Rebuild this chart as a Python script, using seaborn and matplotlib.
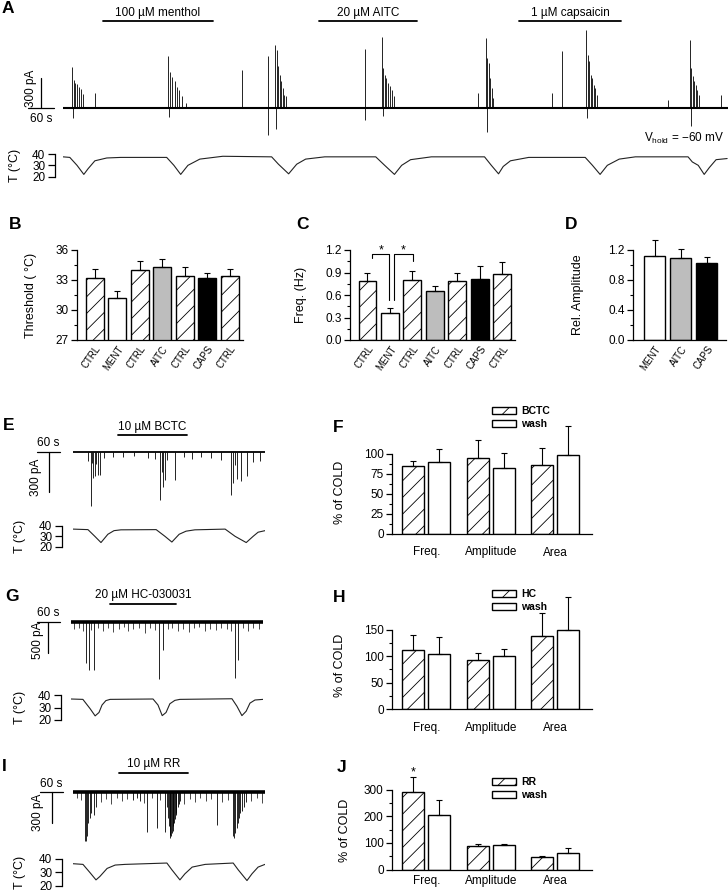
import numpy as np
import pandas as pd
import matplotlib
matplotlib.use("Agg")
import matplotlib.pyplot as plt
import matplotlib.transforms as mtransforms
from matplotlib.patches import Patch
from matplotlib.ticker import FixedLocator
import seaborn as sns

W, H = 728, 892

# ---------------- panel A: current trace (s, pA) and bath temperature ----------------
a_t_end = 1565
a_burst_t = [21, 247, 500, 750, 996, 1231, 1476]
a_burst_offsets = [
    [0, 4, 8, 13, 17, 22, 27],
    [0, 5, 10, 16, 22, 27, 33, 43],
    [0, 4, 7, 11, 14, 18, 21, 25],
    [0, 3, 7, 11, 15, 19, 24, 29],
    [0, 3, 7, 10, 14, 17],
    [0, 4, 7, 11, 15, 18, 22, 25],
    [0, 3, 7, 10, 13, 17, 21],
]
a_burst_amps = [
    [410, 280, 250, 237, 213, 187, 137],
    [520, 360, 310, 267, 210, 180, 117, 50],
    [633, 583, 417, 333, 267, 200, 133, 117],
    [710, 400, 333, 300, 250, 217, 183, 117],
    [700, 500, 450, 300, 200, 100],
    [783, 533, 467, 333, 300, 233, 200, 133],
    [683, 400, 317, 267, 233, 183, 133],
]
a_burst_neg = [-100, -90, -210, -83, -243, -100, -183]
a_single_t = [75, 421, 482, 711, 976, 1151, 1175, 1423, 1549]
a_single_pA = [150, 383, 517, 590, 150, 150, 567, 83, 133]
a_single_neg = [0, 0, -267, -123, 0, 0, 0, 0, 0]
a_temp_t = [0, 16, 33, 49, 59, 75, 103, 136,
            244, 261, 277, 294, 322, 376,
            491, 507, 531, 550, 571, 616,
            736, 757, 780, 797, 818, 867,
            992, 1008, 1025, 1036, 1053, 1096,
            1229, 1246, 1264, 1281, 1309, 1347,
            1471, 1481, 1495, 1509, 1521, 1537, 1563]
a_temp_c = [37.5, 37, 30, 22, 27, 34, 36.5, 37,
            37, 30, 22, 30, 35.5, 38,
            37.5, 31, 22.5, 31, 35.5, 37.5,
            37.5, 30, 22, 30, 35, 37.5,
            37.5, 30, 22.5, 29, 34, 37,
            37, 30, 22, 30, 35.5, 37.5,
            37.5, 33, 30, 22, 28, 35, 36]
a_drugs = ["100 µM menthol", "20 µM AITC", "1 µM capsaicin"]
a_drug_on = [94, 602, 1072]
a_drug_off = [352, 834, 1314]

# ---------------- panels B-D ----------------
b_labels = ["CTRL", "MENT", "CTRL", "AITC", "CTRL", "CAPS", "CTRL"]
b_values = [33.23, 31.17, 34.0, 34.27, 33.4, 33.23, 33.4]
b_sem = [0.87, 0.76, 0.93, 0.83, 0.87, 0.5, 0.7]
c_values = [0.79, 0.356, 0.80, 0.66, 0.787, 0.82, 0.876]
c_sem = [0.10, 0.074, 0.12, 0.064, 0.10, 0.167, 0.16]
c_sig_left = [0.22, 1.17]
c_sig_right = [0.98, 2.03]
c_sig_left_low = [1.09, 0.54]
c_sig_right_low = [0.54, 1.06]
c_sig_top = 1.147
d_labels = ["MENT", "AITC", "CAPS"]
d_values = [1.12, 1.089, 1.022]
d_sem = [0.22, 0.12, 0.089]
bcd_fill = {"CTRL": "white", "MENT": "white", "AITC": "#bdbdbd", "CAPS": "black"}
bcd_hatch = {"CTRL": "//", "MENT": "", "AITC": "", "CAPS": ""}

# ---------------- panel E ----------------
e_spike_t = [39, 46, 49, 52, 57, 60, 64, 70, 80, 105, 130, 160, 195, 215,
             227, 231, 234, 240, 246, 267, 290, 310, 335, 360, 385,
             412, 418, 422, 428, 438, 454, 470, 488]
e_spike_pA = [-70, -405, -80, -195, -180, -90, -175, -175, -45, -35, -40, -30, -45, -50,
              -360, -150, -260, -210, -60, -210, -40, -50, -35, -45, -60,
              -322, -233, -100, -200, -215, -180, -75, -70]
e_temp_t = [0, 39, 57, 73, 91, 107, 125, 217, 240, 258, 277, 295, 318, 397, 423, 452, 470, 483, 501]
e_temp_c = [37, 36.5, 30, 24, 32, 35.5, 36.3, 36.5, 30, 24.5, 32, 35, 36.3, 37, 30, 24, 30, 34, 35.5]

# ---------------- panel G ----------------
g_spike_t = [39, 47, 60, 230, 240, 428, 436]
g_spike_pA = [-660, -775, -775, -918, -450, -900, -612]
g_small_t = [8, 20, 32, 52, 70, 84, 97, 110, 124, 138, 150, 163, 178, 192, 205, 218, 252,
             264, 279, 293, 307, 320, 334, 349, 363, 378, 392, 406, 418, 448, 462, 476, 490]
g_small_pA = [-110, -90, -150, -130, -100, -140, -90, -160, -110, -80, -150, -120, -90, -170,
              -100, -130, -110, -90, -150, -120, -160, -100, -80, -140, -110, -130, -90, -120,
              -150, -100, -140, -90, -110]
g_temp_t = [0, 31, 50, 63, 73, 81, 91, 102, 214, 227, 238, 248, 258, 271, 284,
            420, 433, 446, 457, 467, 480, 501]
g_temp_c = [36.8, 36.5, 29, 23.3, 26, 32, 35.5, 36.5, 36.8, 32, 23.5, 26, 33, 35.7, 36.5,
            37, 31, 23.5, 27, 33.5, 36, 36.5]

# ---------------- panel I ----------------
i_spike_t = [31, 34, 37, 40, 44, 48, 54, 60,
             157, 166, 175, 193, 219, 240, 376,
             245, 248, 250, 252, 254, 256, 258, 260, 262, 264, 266, 268, 270, 273, 276, 280,
             418, 421, 424, 427, 430, 433, 437, 441, 446, 452]
i_spike_pA = [-470, -470, -430, -300, -250, -200, -220, -150,
              -80, -60, -90, -387, -350, -390, -320,
              -150, -250, -330, -420, -445, -430, -400, -380, -330, -300, -260, -220, -200,
              -150, -120, -90,
              -430, -445, -400, -350, -300, -250, -200, -180, -150, -100]
i_small_t = [10, 20, 72, 85, 100, 115, 128, 142, 185, 205, 228, 290, 305, 318, 332, 346,
             360, 390, 405, 465, 480, 492]
i_small_pA = [-60, -80, -100, -70, -120, -60, -90, -70, -110, -60, -80, -120, -70, -100,
              -60, -90, -70, -100, -80, -90, -60, -110]
i_temp_t = [0, 26, 44, 60, 70, 89, 110, 136, 245, 258, 279, 292, 311, 345, 418, 431, 454, 467, 483, 501]
i_temp_c = [36.5, 36, 30, 24.5, 27, 33, 35.5, 36, 37, 32, 24.5, 29, 34, 36, 37, 32, 24, 29, 34, 36]

# ---------------- panels F, H, J (% of COLD) ----------------
measures = ["Freq.", "Amplitude", "Area"]
f_drug, f_drug_sem = [85, 95.4, 86], [6.7, 22.6, 22]
f_wash, f_wash_sem = [90.4, 83, 98.7], [15.6, 18.6, 36.3]
h_drug, h_drug_sem = [112, 93, 139], [28, 13, 42]
h_wash, h_wash_sem = [105, 100, 150], [31, 14, 61]
j_drug, j_drug_sem = [294, 87.5, 47.5], [53, 10, 2.5]
j_wash, j_wash_sem = [206, 93.7, 62.5], [56, 1.5, 18.5]

# ---------------- style ----------------
sns.set_theme(style="ticks")
plt.rcParams["font.family"] = ["Liberation Sans", "DejaVu Sans"]
plt.rcParams.update({
    "mathtext.fontset": "custom",
    "mathtext.rm": "Liberation Sans",
    "hatch.linewidth": 0.6,
    "axes.linewidth": 0.9,
    "axes.edgecolor": "black",
    "xtick.color": "black",
    "ytick.color": "black",
    "text.color": "black",
    "axes.labelcolor": "black",
    "ytick.major.width": 0.9,
    "ytick.minor.width": 0.8,
    "font.size": 8,
})

fig = plt.figure(figsize=(W / 100, H / 100), dpi=100)
fig.patch.set_facecolor("white")


def add_box(box):
    x0, y0, x1, y1 = box
    ax = fig.add_axes([x0 / W, 1 - y1 / H, (x1 - x0) / W, (y1 - y0) / H])
    ax.set_facecolor("none")
    return ax


def fig_text(x, y, s, **kw):
    fig.text(x / W, 1 - y / H, s, **kw)


def label_at(ax, box, x_px, y_px):
    x0, y0, x1, y1 = box
    ax.yaxis.set_label_coords((x_px - x0) / (x1 - x0), (y1 - y_px) / (y1 - y0))


def xdata_ypx(ax):
    return mtransforms.blended_transform_factory(ax.transData, fig.transFigure)


def current_trace(box, t_end, ylim, spike_t, spike_pA, base_lw):
    ax = add_box(box)
    sns.lineplot(x=[0, t_end], y=[0, 0], ax=ax, color="black", lw=base_lw)
    ax.vlines(spike_t, 0, spike_pA, color="black", lw=0.6)
    ax.set_xlim(0, t_end)
    ax.set_ylim(*ylim)
    ax.axis("off")
    return ax


def drug_bar(ax, on, off, name, y_bar, y_txt):
    tr = xdata_ypx(ax)
    ax.plot([on, off], [1 - y_bar / H] * 2, color="black", lw=1.3,
            transform=tr, clip_on=False)
    ax.text((on + off) / 2, 1 - y_txt / H, name, transform=tr, ha="center",
            va="center", fontsize=8.5)


def scale_bars(ax, x_t, x_len, x_mid, bar_pA, sec_txt_y, pa_txt_t, pa_txt_y, label):
    ax.plot([x_t, x_t + x_len], [0, 0], color="black", lw=0.9, clip_on=False)
    ax.plot([x_mid, x_mid], [0, bar_pA], color="black", lw=0.9, clip_on=False)
    ax.text(x_t + x_len / 2, sec_txt_y, "60 s", ha="center", va="center",
            fontsize=8.5, clip_on=False)
    ax.text(pa_txt_t, pa_txt_y, label, ha="center", va="center", rotation=90,
            fontsize=8.5, clip_on=False)


def temp_trace(box, t_end, ylim, t, c, spine_px, label_x):
    ax = add_box(box)
    sns.lineplot(x=t, y=c, ax=ax, color="#222222", lw=0.8, sort=False, estimator=None)
    ax.set_xlim(0, t_end)
    ax.set_ylim(*ylim)
    for s in ["top", "right", "bottom"]:
        ax.spines[s].set_visible(False)
    ax.spines["left"].set_position(("outward", spine_px * 0.72))
    ax.spines["left"].set_bounds(20, 40)
    ax.set_yticks([20, 30, 40])
    ax.set_xticks([])
    ax.set_xlabel("")
    ax.tick_params(axis="y", length=5, width=0.9, pad=2, labelsize=8.5)
    ax.set_ylabel("T (°C)", fontsize=9)
    x0, y0, x1, y1 = box
    frac30 = (30 - ylim[0]) / (ylim[1] - ylim[0])
    ax.yaxis.set_label_coords((label_x - x0) / (x1 - x0), frac30)
    return ax


def style_y(ax, yticks, minor_step, bound, size=8.5):
    sns.despine(ax=ax)
    ax.spines["left"].set_bounds(yticks[0], bound)
    ax.set_yticks(yticks)
    ax.yaxis.set_minor_locator(FixedLocator(np.arange(yticks[0], bound + 1e-9, minor_step)))
    ax.tick_params(axis="y", which="major", length=4, pad=2, labelsize=size)
    ax.tick_params(axis="y", which="minor", length=2.2)


def errbars(ax, patches, sems):
    xs = [p.get_x() + p.get_width() / 2 for p in patches]
    ys = [p.get_height() for p in patches]
    eb = ax.errorbar(xs, ys, yerr=[np.zeros(len(sems)), sems], fmt="none",
                     ecolor="black", elinewidth=0.8, capsize=2.5, capthick=0.8)
    for art in eb.lines[1] + eb.lines[2]:
        art.set_clip_on(False)
    return xs


def bar_panel(box, labels, values, sems, ylim, yticks, minor_step, ylabel, xlim, lab_x):
    ax = add_box(box)
    df = pd.DataFrame({"pos": [str(i) for i in range(len(values))], "value": values})
    sns.barplot(data=df, x="pos", y="value", hue="pos",
                palette=[bcd_fill[l] for l in labels], legend=False, width=0.8,
                edgecolor="black", linewidth=1.0, errorbar=None, saturation=1, ax=ax)
    for p, l in zip(ax.patches, labels):
        p.set_hatch(bcd_hatch[l])
    errbars(ax, list(ax.patches), sems)
    ax.set_xlim(*xlim)
    ax.set_ylim(*ylim)
    style_y(ax, yticks, minor_step, ylim[1])
    ax.set_xticks(range(len(labels)))
    ax.set_xticklabels(labels, rotation=55, ha="right", rotation_mode="anchor", fontsize=7)
    off = mtransforms.ScaledTranslation(4 / 72, 0, fig.dpi_scale_trans)
    for tl in ax.get_xticklabels():
        tl.set_transform(tl.get_transform() + off)
    ax.tick_params(axis="x", length=0, pad=3)
    ax.set_xlabel("")
    ax.set_ylabel(ylabel, fontsize=9)
    label_at(ax, box, lab_x, 295)
    return ax


def group_panel(box, drug_name, drug, drug_sem, wash, wash_sem, ylim, yticks, minor_step,
                lab_x, lab_y, legend_xy, xpad=9):
    ax = add_box(box)
    df = pd.DataFrame({"measure": measures * 2,
                       "cond": [drug_name] * 3 + ["wash"] * 3,
                       "value": drug + wash})
    sns.barplot(data=df, x="measure", y="value", hue="cond", palette=["white", "white"],
                width=0.8, gap=0.15, edgecolor="black", linewidth=1.0, errorbar=None,
                saturation=1, legend=False, ax=ax)
    for p in ax.containers[0]:
        p.set_hatch("//")
    xs = errbars(ax, list(ax.containers[0]), drug_sem)
    errbars(ax, list(ax.containers[1]), wash_sem)
    ax.set_xlim(-0.53, 2.57)
    ax.set_ylim(*ylim)
    style_y(ax, yticks, minor_step, yticks[-1])
    ax.tick_params(axis="x", length=0, pad=xpad, labelsize=8.5)
    ax.set_xlabel("")
    ax.set_ylabel("% of COLD", fontsize=9)
    label_at(ax, box, lab_x, lab_y)
    handles = [Patch(facecolor="white", edgecolor="black", hatch="//", lw=1.0, label=drug_name),
               Patch(facecolor="white", edgecolor="black", lw=1.0, label="wash")]
    ax.legend(handles=handles, loc="upper left",
              bbox_to_anchor=(legend_xy[0] / W, 1 - legend_xy[1] / H),
              bbox_transform=fig.transFigure, frameon=False, handlelength=2.3,
              handleheight=0.75, labelspacing=0.3, handletextpad=0.5, borderpad=0,
              borderaxespad=0, prop={"weight": "bold", "size": 7.5})
    return ax, xs


# ---------------- panel A ----------------
box_a = (63, 25, 728, 140)
a_t, a_pA = [], []
for t0, offs, amps, neg in zip(a_burst_t, a_burst_offsets, a_burst_amps, a_burst_neg):
    a_t += [t0 + o for o in offs] + [t0 + 2]
    a_pA += amps + [neg]
a_t += a_single_t + a_single_t
a_pA += a_single_pA + a_single_neg
ax_a = current_trace(box_a, a_t_end, (-320, 830), a_t, a_pA, 1.5)
for on, off, name in zip(a_drug_on, a_drug_off, a_drugs):
    drug_bar(ax_a, on, off, name, 21, 13)
scale_bars(ax_a, -82, 60, -52, 300, -110, -76, 200, "300 pA")
temp_trace((63, 148, 728, 182), a_t_end, (15.3, 45.3), a_temp_t, a_temp_c, 8, 21)
fig_text(724, 138, r"V$_{\rm hold}$ = −60 mV", fontsize=8.5, va="center", ha="right")

# ---------------- panels B, C, D ----------------
bar_panel((76.7, 250, 243, 340), b_labels, b_values, b_sem, (27, 36), [27, 30, 33, 36], 1.5,
          "Threshold ( °C)", (-0.79, 6.58), 37)
ax_c = bar_panel((350, 250, 515, 340), b_labels, c_values, c_sem, (0, 1.2),
                 [0, 0.3, 0.6, 0.9, 1.2], 0.15, "Freq. (Hz)", (-0.78, 6.58), 307)
for l, r, lo_l, lo_r in zip(c_sig_left, c_sig_right, c_sig_left_low, c_sig_right_low):
    ax_c.plot([l, l, r, r], [lo_l, c_sig_top, c_sig_top, lo_r], color="black", lw=0.8,
              clip_on=False)
    ax_c.text((l + r) / 2, c_sig_top + 0.01, "*", ha="center", va="baseline", fontsize=9,
              clip_on=False)
bar_panel((633, 250, 726, 340), d_labels, d_values, d_sem, (0, 1.2), [0, 0.4, 0.8, 1.2], 0.2,
          "Rel. Amplitude", (-0.83, 2.73), 584)

# ---------------- panel E / F ----------------
box_e = (73, 445, 265, 512)
ax_e = current_trace(box_e, 501, (-450, 52.5), e_spike_t, e_spike_pA, 1.3)
drug_bar(ax_e, 117, 298, "10 µM BCTC", 435, 427)
scale_bars(ax_e, -94, 60, -63, -300, 65, -96, -187, "300 pA")
temp_trace((73, 520, 265, 550), 501, (16.8, 45.8), e_temp_t, e_temp_c, 11, 26)
group_panel((392, 420, 592, 534), "BCTC", f_drug, f_drug_sem, f_wash, f_wash_sem,
            (0, 142.5), [0, 25, 50, 75, 100], 12.5, 346, 492, (492, 406))

# ---------------- panel G / H ----------------
box_g = (71, 610, 263, 685)
ax_g = current_trace(box_g, 501, (-1014, 193), g_spike_t, g_spike_pA, 2.6)
ax_g.vlines(g_small_t, 0, g_small_pA, color="black", lw=0.5)
drug_bar(ax_g, 102, 274, "20 µM HC-030031", 604, 595)
scale_bars(ax_g, -89, 60, -60, -500, 145, -86, -290, "500 pA")
temp_trace((71, 690, 263, 725), 501, (16, 44), g_temp_t, g_temp_c, 10, 26)
group_panel((392, 590, 592, 709.3), "HC", h_drug, h_drug_sem, h_wash, h_wash_sem,
            (0, 224.7), [0, 50, 100, 150], 25, 346, 665, (492, 589))

# ---------------- panel I / J ----------------
box_i = (73, 780, 265, 845)
ax_i = current_trace(box_i, 501, (-513, 116), i_spike_t, i_spike_pA, 2.6)
ax_i.vlines(i_small_t, 0, i_small_pA, color="black", lw=0.5)
drug_bar(ax_i, 120, 300, "10 µM RR", 773, 764)
scale_bars(ax_i, -86, 60, -55, -300, 77, -92, -194, "300 pA")
temp_trace((73, 854, 265, 890), 501, (17, 43.7), i_temp_t, i_temp_c, 11, 26)
ax_j, j_x = group_panel((392, 765, 592, 869.5), "RR", j_drug, j_drug_sem, j_wash, j_wash_sem,
                        (0, 394), [0, 100, 200, 300], 50, 351, 830, (492, 777), xpad=4)
ax_j.text(j_x[0], j_drug[0] + j_drug_sem[0] + 8, "*", ha="center", va="baseline", fontsize=9)

# ---------------- panel letters ----------------
for letter, x, y in [("A", 2, 13), ("B", 9, 229), ("C", 296, 229), ("D", 565, 229),
                     ("E", 3, 430), ("F", 333, 432), ("G", 5, 601), ("H", 333, 602),
                     ("I", 2, 771), ("J", 337, 772)]:
    fig_text(x, y, letter, fontsize=12.5, fontweight="bold", va="baseline")

fig.savefig("out.png", dpi=100, facecolor="white")
